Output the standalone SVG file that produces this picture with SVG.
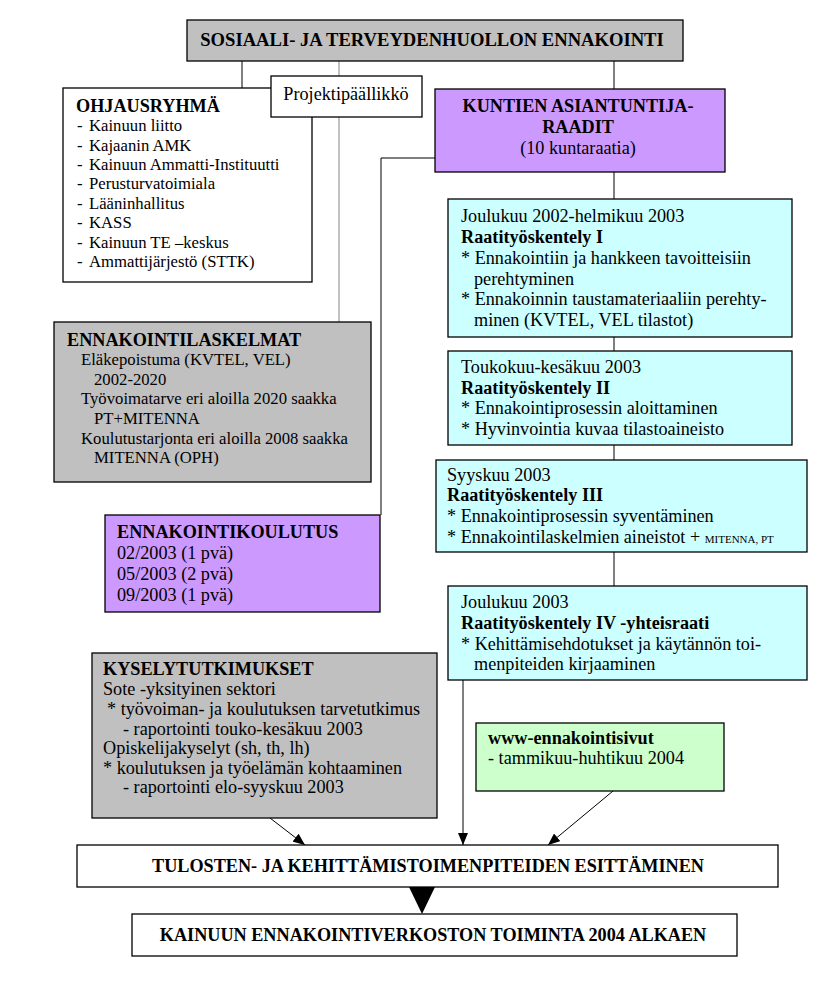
<svg xmlns="http://www.w3.org/2000/svg" width="839" height="985" viewBox="0 0 839 985">
<style>
text{font-family:"Liberation Serif","Times New Roman",serif;fill:#000}
.t{font-size:18.2px}
.s{font-size:16.7px}
.b{font-weight:bold}
.m{font-size:11px}
.box{stroke:#000;stroke-width:1.3}
.w{fill:#fff}.g{fill:#c0c0c0}.p{fill:#cc99ff}.c{fill:#ccffff}.gr{fill:#ccffcc}
.ln{stroke:#000;stroke-width:1;fill:none}
.gl{stroke:#a0a0a0;stroke-width:1.3;fill:none}
</style>
<defs>
<marker id="ah" viewBox="0 0 12 10" refX="12" refY="5" markerWidth="12" markerHeight="10" markerUnits="userSpaceOnUse" orient="auto">
<path d="M0,0 L12,5 L0,10 Z" fill="#000"/>
</marker>
</defs>
<rect width="839" height="985" fill="#fff"/>

<g id="connectors">
<line class="ln" x1="242" y1="61" x2="242" y2="88"/>
<line class="gl" x1="339" y1="61" x2="339" y2="322"/>
<line class="ln" x1="614" y1="61" x2="614" y2="89"/>
<polyline class="ln" points="435,158 381,158 381,515"/>
<line class="ln" x1="614" y1="172" x2="614" y2="199"/>
<line class="ln" x1="614" y1="337" x2="614" y2="351"/>
<line class="ln" x1="614" y1="445" x2="614" y2="460"/>
<line class="ln" x1="614" y1="552" x2="614" y2="586"/>
<line class="ln" x1="270" y1="818" x2="305" y2="845" marker-end="url(#ah)"/>
<line class="ln" x1="463" y1="680" x2="463" y2="845" marker-end="url(#ah)"/>
<line class="ln" x1="613" y1="791" x2="548" y2="845" marker-end="url(#ah)"/>
<polygon points="409,887 435,887 422,914" fill="#000"/>
</g>

<g id="top">
<rect class="box g" x="187" y="20" width="496" height="41"/>
<text x="432" y="46" text-anchor="middle" font-size="18.6" font-weight="bold">SOSIAALI- JA TERVEYDENHUOLLON ENNAKOINTI</text>
</g>

<g id="ohjausryhma">
<rect class="box w" x="63" y="88" width="249" height="194"/>
<text class="t b" x="76" y="112">OHJAUSRYHMÄ</text>
<text class="s"><tspan x="77" y="131">-</tspan><tspan x="89" y="131">Kainuun liitto</tspan>
<tspan x="77" y="150.5">-</tspan><tspan x="89" y="150.5">Kajaanin AMK</tspan>
<tspan x="77" y="170">-</tspan><tspan x="89" y="170">Kainuun Ammatti-Instituutti</tspan>
<tspan x="77" y="189">-</tspan><tspan x="89" y="189">Perusturvatoimiala</tspan>
<tspan x="77" y="208.5">-</tspan><tspan x="89" y="208.5">Lääninhallitus</tspan>
<tspan x="77" y="228">-</tspan><tspan x="89" y="228">KASS</tspan>
<tspan x="77" y="247.5">-</tspan><tspan x="89" y="247.5">Kainuun TE –keskus</tspan>
<tspan x="77" y="267">-</tspan><tspan x="89" y="267">Ammattijärjestö (STTK)</tspan></text>
</g>

<g id="projektipaallikko">
<rect class="box w" x="271" y="76" width="151" height="41"/>
<text class="t" x="346" y="100" text-anchor="middle">Projektipäällikkö</text>
</g>

<g id="kuntien">
<rect class="box p" x="435" y="89" width="290" height="83"/>
<text class="t b" x="578" y="112" text-anchor="middle">KUNTIEN ASIANTUNTIJA-</text>
<text class="t b" x="578" y="133" text-anchor="middle">RAADIT</text>
<text class="t" x="578" y="154" text-anchor="middle">(10 kuntaraatia)</text>
</g>

<g id="raati1">
<rect class="box c" x="448" y="199" width="344" height="138"/>
<text class="t" x="461" y="222">Joulukuu 2002-helmikuu 2003</text>
<text class="t b" x="461" y="243">Raatityöskentely I</text>
<text class="t" x="461" y="264">* Ennakointiin ja hankkeen tavoitteisiin</text>
<text class="t" x="474" y="284.5">perehtyminen</text>
<text class="t" x="461" y="305">* Ennakoinnin taustamateriaaliin perehty-</text>
<text class="t" x="474" y="326">minen (KVTEL, VEL tilastot)</text>
</g>

<g id="raati2">
<rect class="box c" x="448" y="351" width="344" height="94"/>
<text class="t" x="461" y="373">Toukokuu-kesäkuu 2003</text>
<text class="t b" x="461" y="394">Raatityöskentely II</text>
<text class="t" x="461" y="414">* Ennakointiprosessin aloittaminen</text>
<text class="t" x="461" y="435">* Hyvinvointia kuvaa tilastoaineisto</text>
</g>

<g id="raati3">
<rect class="box c" x="436" y="460" width="371" height="92"/>
<text class="t" x="447" y="481">Syyskuu 2003</text>
<text class="t b" x="447" y="501">Raatityöskentely III</text>
<text class="t" x="447" y="522">* Ennakointiprosessin syventäminen</text>
<text class="t" x="447" y="543">* Ennakointilaskelmien aineistot + <tspan class="m">MITENNA, PT</tspan></text>
</g>

<g id="raati4">
<rect class="box c" x="448" y="586" width="359" height="94"/>
<text class="t" x="461" y="608">Joulukuu 2003</text>
<text class="t b" x="461" y="629">Raatityöskentely IV -yhteisraati</text>
<text class="t" x="461" y="650">* Kehittämisehdotukset ja käytännön toi-</text>
<text class="t" x="474" y="670">menpiteiden kirjaaminen</text>
</g>

<g id="laskelmat">
<rect class="box g" x="54" y="322" width="317" height="160"/>
<text class="t b" x="67" y="346">ENNAKOINTILASKELMAT</text>
<text class="s" x="81" y="365">Eläkepoistuma (KVTEL, VEL)</text>
<text class="s" x="94" y="384.5">2002-2020</text>
<text class="s" x="81" y="404">Työvoimatarve eri aloilla 2020 saakka</text>
<text class="s" x="94" y="424">PT+MITENNA</text>
<text class="s" x="81" y="443.5">Koulutustarjonta eri aloilla 2008 saakka</text>
<text class="s" x="94" y="463">MITENNA (OPH)</text>
</g>

<g id="koulutus">
<rect class="box p" x="105" y="515" width="275" height="97"/>
<text class="t b" x="117" y="538">ENNAKOINTIKOULUTUS</text>
<text class="t" x="117" y="559">02/2003 (1 pvä)</text>
<text class="t" x="117" y="580">05/2003 (2 pvä)</text>
<text class="t" x="117" y="601">09/2003 (1 pvä)</text>
</g>

<g id="kysely">
<rect class="box g" x="92" y="653" width="345" height="165"/>
<text class="t b" x="103" y="675">KYSELYTUTKIMUKSET</text>
<text class="t" x="103" y="695">Sote -yksityinen sektori</text>
<text class="t" x="107" y="715">* työvoiman- ja koulutuksen tarvetutkimus</text>
<text class="t" x="123" y="734.5">-  raportointi touko-kesäkuu 2003</text>
<text class="t" x="103" y="754">Opiskelijakyselyt (sh, th, lh)</text>
<text class="t" x="103" y="773.5">* koulutuksen ja työelämän kohtaaminen</text>
<text class="t" x="123" y="793">-  raportointi elo-syyskuu 2003</text>
</g>

<g id="www">
<rect class="box gr" x="476" y="723" width="248" height="68"/>
<text class="t b" x="488" y="744">www-ennakointisivut</text>
<text class="t" x="488" y="764">-  tammikuu-huhtikuu 2004</text>
</g>

<g id="tulosten">
<rect class="box w" x="77" y="845" width="701" height="42"/>
<text class="t b" x="428" y="872" text-anchor="middle">TULOSTEN- JA KEHITTÄMISTOIMENPITEIDEN ESITTÄMINEN</text>
</g>

<g id="kainuun">
<rect class="box w" x="132" y="914" width="605" height="42"/>
<text class="t b" x="433" y="941" text-anchor="middle">KAINUUN ENNAKOINTIVERKOSTON TOIMINTA 2004 ALKAEN</text>
</g>
</svg>
